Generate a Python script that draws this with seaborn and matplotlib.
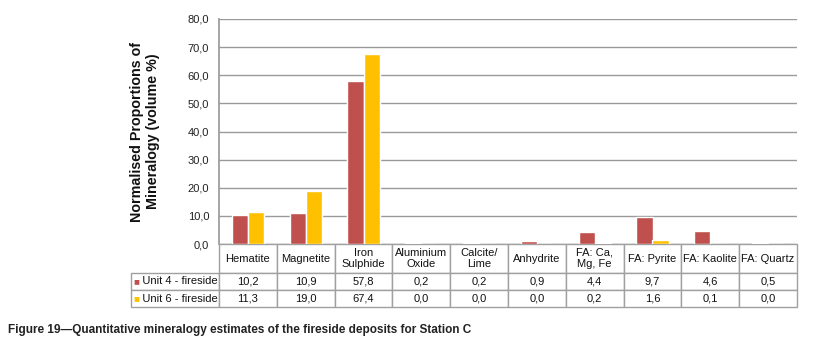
import pandas as pd
import matplotlib
matplotlib.use("Agg")
import matplotlib.pyplot as plt
import seaborn as sns

# values
categories = ["Hematite", "Magnetite", "Iron\nSulphide", "Aluminium\nOxide", "Calcite/\nLime",
              "Anhydrite", "FA: Ca,\nMg, Fe", "FA: Pyrite", "FA: Kaolite", "FA: Quartz"]
series = ["Unit 4 - fireside", "Unit 6 - fireside"]
unit4 = [10.2, 10.9, 57.8, 0.2, 0.2, 0.9, 4.4, 9.7, 4.6, 0.5]
unit6 = [11.3, 19.0, 67.4, 0.0, 0.0, 0.0, 0.2, 1.6, 0.1, 0.0]
colors = ["#C0504D", "#FFC000"]
y_ticks = [0, 10, 20, 30, 40, 50, 60, 70, 80]

sns.set_theme(style="white")
plt.rcParams["font.family"] = ["Liberation Sans", "DejaVu Sans"]

df = pd.DataFrame({
    "mineral": categories * 2,
    "series": [series[0]] * len(categories) + [series[1]] * len(categories),
    "value": unit4 + unit6,
})

fig = plt.figure(figsize=(8.17, 3.5), dpi=100)
ax = fig.add_axes([219 / 817, 1 - 244 / 350, 578 / 817, 225 / 350])

sns.barplot(data=df, x="mineral", y="value", hue="series", palette=colors,
            width=0.56, saturation=1, legend=False, ax=ax, errorbar=None)

ax.set_ylim(0, 80)
ax.set_xlim(-0.5, len(categories) - 0.5)
ax.set_yticks(y_ticks)
ax.set_yticklabels([f"{t:.1f}".replace(".", ",") for t in y_ticks], fontsize=8, color="#222222")
ax.tick_params(axis="y", length=0, pad=7)
ax.set_xticks([])
ax.set_xlabel("")
ax.set_ylabel("Normalised Proportions of\nMineralogy (volume %)", fontsize=10.3,
              fontweight="bold", labelpad=20, color="#111111")
ax.yaxis.grid(True, color="#9a9a9a", linewidth=1)
ax.set_axisbelow(True)
for side in ["top", "right", "bottom"]:
    ax.spines[side].set_visible(False)
ax.spines["left"].set_color("#9a9a9a")

# data table under the axis (bbox covers the grid cells only, row labels hang to the left)
cell_text = [[f"{v:.1f}".replace(".", ",") for v in row] for row in (unit4, unit6)]
label_w = 92 / 578
tab_h = 63 / 225
tbl = ax.table(cellText=cell_text, rowLabels=["   " + s for s in series], colLabels=categories,
               cellLoc="center", rowLoc="left",
               bbox=[0, -tab_h, 1, tab_h])
tbl.auto_set_font_size(False)
tbl.set_fontsize(8)
for (r, c), cell in tbl.get_celld().items():
    cell.set_edgecolor("#a0a0a0")
    cell.set_linewidth(1)
    cell.set_height(29 if r == 0 else 17)
    cell.set_width(label_w if c == -1 else 0.1)
    cell.get_text().set_color("#111111")
    if c == -1:
        cell.PAD = 0.02

# coloured legend keys in the row label cells
for i, col in enumerate(colors):
    ax.text(-label_w + 0.011, -(29 + 17 * i + 8.5) / 225, "\u25A0", color=col, fontsize=7,
            transform=ax.transAxes, ha="left", va="center", clip_on=False)

fig.text(8 / 817, 1 - 330 / 350,
         "Figure 19\u2014Quantitative mineralogy estimates of the fireside deposits for Station C",
         fontsize=8.5, fontweight="bold", color="#222222", ha="left", va="center")

fig.savefig("out.png", dpi=100)
